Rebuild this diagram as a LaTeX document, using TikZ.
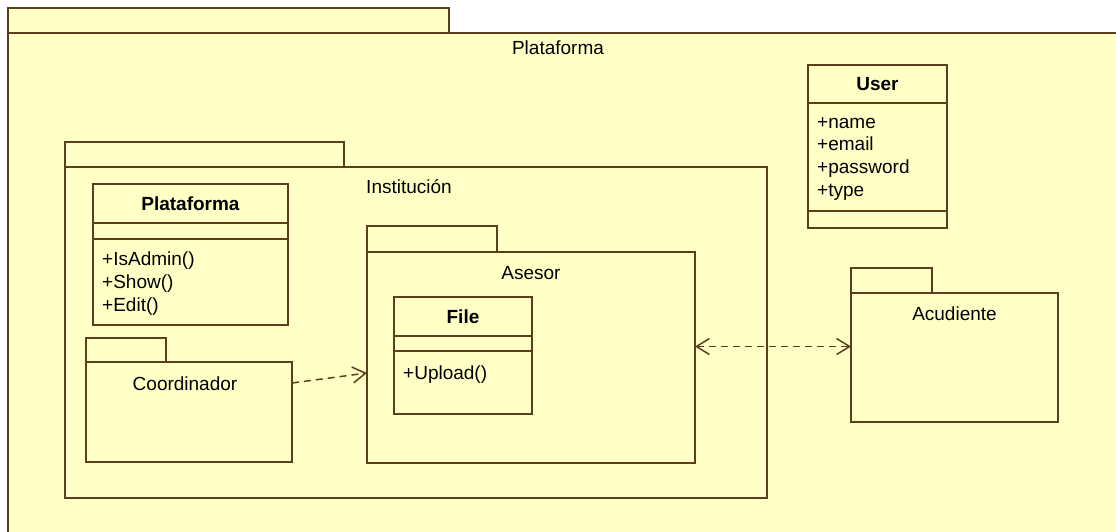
\documentclass[tikz,border=0pt]{standalone}
\usepackage{fontspec}
\setmainfont{Liberation Sans}
\usetikzlibrary{positioning, arrows.meta}
\definecolor{UmlLine}{RGB}{92, 62, 30}
\definecolor{UmlFill}{RGB}{255, 255, 198}

\begin{document}
\begin{tikzpicture}[
    x=1pt, y=-1pt,
    font=\fontsize{19}{22.7}\selectfont,
    pkgpart/.style={rectangle, draw=UmlLine, fill=UmlFill, line width=1.8pt, outer sep=0pt, inner sep=0pt, anchor=north west},
    clspart/.style={rectangle, draw=UmlLine, fill=UmlFill, line width=1.8pt, outer sep=0pt, inner sep=0pt},
    pkgname/.style={inner sep=0pt, anchor=center},
    member/.style={align=left, inner sep=0pt, anchor=north west},
    barb/.tip={Straight Barb[length=13pt, width=16pt, line width=1.5pt]},
    deparrow/.style={draw=UmlLine, line width=1.5pt, dash pattern=on 7pt off 5pt, -barb}
]
    \useasboundingbox (0,0) rectangle (1116,531);

    % Package: Plataforma (outer)
    \node (platTab) [pkgpart, minimum width=441pt, minimum height=25pt] at (8,8) {};
    \node (platBody) [pkgpart, minimum width=1130pt, minimum height=520pt] at (platTab.south west) {};
    \node (platName) [pkgname] at (558,48) {Plataforma};

    % Class: User
    \node (userTitle) [clspart, minimum width=139pt, minimum height=38pt, anchor=north west] at (808,65) {\textbf{User}};
    \node (userAttr) [clspart, minimum width=139pt, minimum height=108pt, below=0pt of userTitle] {};
    \node (userOps) [clspart, minimum width=139pt, minimum height=17pt, below=0pt of userAttr] {};
    \node (userAttrText) [member, below right=14pt and 9pt of userAttr.north west] {+name\\+email\\+password\\+type};

    % Package: Institucion
    \node (instTab) [pkgpart, minimum width=279pt, minimum height=25pt] at (65,142) {};
    \node (instBody) [pkgpart, minimum width=702pt, minimum height=331pt] at (instTab.south west) {};
    \node (instName) [pkgname] at ([xshift=-7pt, yshift=-20pt]instBody.north) {Institución};

    % Class: Plataforma
    \node (platClsTitle) [clspart, minimum width=195pt, minimum height=39pt, anchor=north west] at (93,184) {\textbf{Plataforma}};
    \node (platClsAttr) [clspart, minimum width=195pt, minimum height=16pt, below=0pt of platClsTitle] {};
    \node (platClsOps) [clspart, minimum width=195pt, minimum height=86pt, below=0pt of platClsAttr] {};
    \node (platClsOpsText) [member, below right=13pt and 9pt of platClsOps.north west] {+IsAdmin()\\+Show()\\+Edit()};

    % Package: Coordinador
    \node (coordTab) [pkgpart, minimum width=80pt, minimum height=24pt] at (86,338) {};
    \node (coordBody) [pkgpart, minimum width=206pt, minimum height=100pt] at (coordTab.south west) {};
    \node (coordName) [pkgname] at ([xshift=-4pt, yshift=-22pt]coordBody.north) {Coordinador};

    % Package: Asesor
    \node (asesorTab) [pkgpart, minimum width=130pt, minimum height=26pt] at (367,226) {};
    \node (asesorBody) [pkgpart, minimum width=328pt, minimum height=211pt] at (asesorTab.south west) {};
    \node (asesorName) [pkgname] at ([yshift=-21pt]asesorBody.north) {Asesor};

    % Class: File
    \node (fileTitle) [clspart, minimum width=138pt, minimum height=39pt, anchor=north west] at (394,297) {\textbf{File}};
    \node (fileAttr) [clspart, minimum width=138pt, minimum height=15pt, below=0pt of fileTitle] {};
    \node (fileOps) [clspart, minimum width=138pt, minimum height=63pt, below=0pt of fileAttr] {};
    \node (fileOpsText) [member, below right=15pt and 9pt of fileOps.north west] {+Upload()};

    % Package: Acudiente
    \node (acuTab) [pkgpart, minimum width=81pt, minimum height=25pt] at (851,268) {};
    \node (acuBody) [pkgpart, minimum width=207pt, minimum height=129pt] at (acuTab.south west) {};
    \node (acuName) [pkgname] at ([yshift=-21pt]acuBody.north) {Acudiente};

    % Dependencies
    \draw [deparrow] ([yshift=-21pt]coordBody.north east) -- ([yshift=-121pt]asesorBody.north west);
    \draw [deparrow, barb-barb] ([yshift=11pt]asesorBody.east) -- ([yshift=11pt]acuBody.west);

\end{tikzpicture}
\end{document}
